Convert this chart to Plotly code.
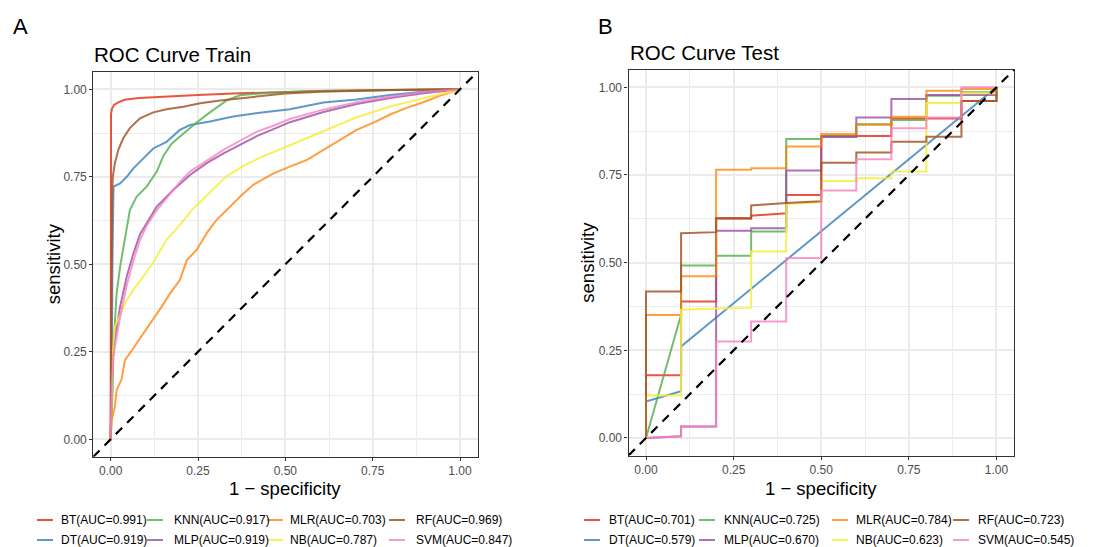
import plotly.graph_objects as go

# ---------------------------------------------------------------------------
# Data
# ---------------------------------------------------------------------------
MODELS = ["BT", "DT", "KNN", "MLP", "MLR", "NB", "RF", "SVM"]
AUC_TRAIN = ["0.991", "0.919", "0.917", "0.919", "0.703", "0.787", "0.969", "0.847"]
AUC_TEST = ["0.701", "0.579", "0.725", "0.670", "0.784", "0.623", "0.723", "0.545"]

TICK_VALS = [0, 0.25, 0.5, 0.75, 1]
TICK_TEXT = ["0.00", "0.25", "0.50", "0.75", "1.00"]

# train ROC curves: x = 1 - specificity, y = sensitivity
BT_TRAIN_X = [0, 0, 0.001, 0.004, 0.01, 0.02, 0.04, 0.08, 0.15, 0.25, 0.35, 0.45, 0.6, 0.8, 1]
BT_TRAIN_Y = [0, 0.5, 0.93, 0.945, 0.955, 0.962, 0.97, 0.975, 0.979, 0.984, 0.988, 0.991, 0.995, 0.998, 1]

DT_TRAIN_X = [0, 0.003, 0.005, 0.008, 0.027, 0.046, 0.065, 0.094, 0.122, 0.16, 0.198, 0.227,
              0.284, 0.351, 0.427, 0.513, 0.609, 0.704, 0.8, 0.895, 1]
DT_TRAIN_Y = [0, 0.2, 0.5, 0.722, 0.731, 0.75, 0.774, 0.803, 0.831, 0.85, 0.884, 0.898,
              0.908, 0.922, 0.933, 0.943, 0.962, 0.971, 0.984, 0.993, 1]

KNN_TRAIN_X = [0, 0.003, 0.006, 0.008, 0.012, 0.017, 0.027, 0.041, 0.055, 0.074, 0.103, 0.132,
               0.151, 0.175, 0.208, 0.246, 0.284, 0.332, 0.37, 0.45, 0.6, 0.8, 1]
KNN_TRAIN_Y = [0, 0.06, 0.15, 0.265, 0.35, 0.417, 0.493, 0.579, 0.655, 0.693, 0.722, 0.765,
               0.81, 0.845, 0.874, 0.905, 0.934, 0.968, 0.983, 0.99, 0.995, 0.998, 1]

MLP_TRAIN_X = [0, 0.003, 0.008, 0.027, 0.046, 0.065, 0.084, 0.132, 0.179, 0.227, 0.275, 0.323,
               0.37, 0.418, 0.466, 0.513, 0.609, 0.704, 0.8, 0.895, 1]
MLP_TRAIN_Y = [0, 0.15, 0.265, 0.379, 0.465, 0.531, 0.586, 0.665, 0.712, 0.755, 0.789, 0.817,
               0.841, 0.866, 0.886, 0.906, 0.935, 0.958, 0.975, 0.989, 1]

MLR_TRAIN_X = [0, 0.001, 0.003, 0.012, 0.017, 0.031, 0.041, 0.055, 0.074, 0.094, 0.122, 0.146,
               0.17, 0.198, 0.218, 0.246, 0.275, 0.303, 0.332, 0.37, 0.408, 0.466, 0.513, 0.561,
               0.609, 0.656, 0.704, 0.752, 0.8, 0.847, 0.895, 0.943, 1]
MLR_TRAIN_Y = [0, 0.04, 0.055, 0.093, 0.141, 0.17, 0.227, 0.246, 0.274, 0.303, 0.341, 0.379,
               0.417, 0.455, 0.512, 0.541, 0.589, 0.627, 0.655, 0.693, 0.727, 0.76, 0.779, 0.798,
               0.827, 0.855, 0.884, 0.905, 0.928, 0.947, 0.963, 0.982, 1]

NB_TRAIN_X = [0, 0.003, 0.006, 0.012, 0.027, 0.046, 0.065, 0.094, 0.122, 0.16, 0.198, 0.232,
              0.284, 0.332, 0.38, 0.427, 0.513, 0.609, 0.704, 0.8, 0.895, 1]
NB_TRAIN_Y = [0, 0.15, 0.25, 0.322, 0.355, 0.398, 0.427, 0.465, 0.505, 0.57, 0.612, 0.655,
              0.705, 0.752, 0.781, 0.805, 0.84, 0.88, 0.92, 0.951, 0.974, 1]

RF_TRAIN_X = [0, 0.002, 0.004, 0.006, 0.012, 0.022, 0.036, 0.055, 0.084, 0.122, 0.16, 0.208,
              0.256, 0.313, 0.37, 0.427, 0.5, 0.6, 0.8, 1]
RF_TRAIN_Y = [0, 0.45, 0.68, 0.75, 0.789, 0.827, 0.86, 0.889, 0.917, 0.934, 0.943, 0.95,
              0.96, 0.968, 0.974, 0.981, 0.988, 0.993, 0.998, 1]

SVM_TRAIN_X = [0, 0.003, 0.008, 0.027, 0.046, 0.065, 0.084, 0.103, 0.132, 0.16, 0.198, 0.227,
               0.275, 0.323, 0.37, 0.418, 0.466, 0.513, 0.609, 0.704, 0.8, 0.895, 1]
SVM_TRAIN_Y = [0, 0.15, 0.24, 0.35, 0.44, 0.51, 0.57, 0.61, 0.655, 0.69, 0.735, 0.765,
               0.797, 0.827, 0.853, 0.879, 0.896, 0.915, 0.942, 0.963, 0.979, 0.992, 1]

# test ROC curves (stepwise, 10 negatives)
BT_TEST_X = [0, 0, 0.1, 0.1, 0.2, 0.2, 0.3, 0.3, 0.4, 0.4, 0.5, 0.5, 0.7, 0.7, 0.9, 0.9, 1, 1]
BT_TEST_Y = [0, 0.179, 0.179, 0.389, 0.389, 0.625, 0.625, 0.634, 0.641, 0.693, 0.693, 0.861,
             0.861, 0.911, 0.911, 0.961, 0.961, 1]

DT_TEST_X = [0, 0, 0.1, 0.1, 1]
DT_TEST_Y = [0, 0.104, 0.133, 0.261, 1]

KNN_TEST_X = [0, 0.1, 0.1, 0.2, 0.2, 0.3, 0.3, 0.4, 0.4, 0.5, 0.5, 0.6, 0.6, 0.7, 0.7, 0.8,
              0.8, 0.9, 0.9, 1, 1]
KNN_TEST_Y = [0, 0.351, 0.492, 0.492, 0.52, 0.52, 0.589, 0.589, 0.853, 0.853, 0.86, 0.86,
              0.895, 0.895, 0.907, 0.907, 0.976, 0.976, 0.986, 0.986, 1]

MLP_TEST_X = [0, 0.1, 0.1, 0.2, 0.2, 0.3, 0.3, 0.4, 0.4, 0.5, 0.5, 0.6, 0.6, 0.7, 0.7, 0.8,
              0.8, 1, 1]
MLP_TEST_Y = [0, 0.005, 0.033, 0.033, 0.591, 0.591, 0.598, 0.598, 0.763, 0.763, 0.858, 0.858,
              0.914, 0.914, 0.967, 0.967, 0.978, 0.978, 1]

MLR_TEST_X = [0, 0, 0.1, 0.1, 0.2, 0.2, 0.3, 0.3, 0.4, 0.4, 0.5, 0.5, 0.6, 0.6, 0.7, 0.7,
              0.8, 0.8, 0.9, 0.9, 1, 1]
MLR_TEST_Y = [0, 0.351, 0.351, 0.461, 0.461, 0.765, 0.765, 0.769, 0.769, 0.831, 0.831, 0.867,
              0.867, 0.893, 0.893, 0.916, 0.916, 0.99, 0.99, 0.995, 0.995, 1]

NB_TEST_X = [0, 0, 0.1, 0.1, 0.2, 0.3, 0.3, 0.4, 0.4, 0.5, 0.5, 0.6, 0.6, 0.7, 0.7, 0.8, 0.8,
             0.9, 0.9, 1, 1]
NB_TEST_Y = [0, 0.121, 0.121, 0.366, 0.369, 0.371, 0.532, 0.532, 0.667, 0.672, 0.733, 0.733,
             0.741, 0.741, 0.76, 0.76, 0.955, 0.955, 0.983, 0.983, 1]

RF_TEST_X = [0, 0, 0.1, 0.1, 0.2, 0.2, 0.3, 0.3, 0.4, 0.5, 0.5, 0.6, 0.6, 0.7, 0.7, 0.8, 0.8,
             0.9, 0.9, 1, 1]
RF_TEST_Y = [0, 0.418, 0.418, 0.584, 0.587, 0.627, 0.627, 0.663, 0.67, 0.675, 0.785, 0.785,
             0.814, 0.814, 0.845, 0.845, 0.859, 0.859, 0.961, 0.961, 1]

SVM_TEST_X = [0, 0.1, 0.1, 0.2, 0.2, 0.3, 0.3, 0.4, 0.4, 0.5, 0.5, 0.6, 0.6, 0.7, 0.7, 0.8,
              0.8, 0.9, 0.9, 1]
SVM_TEST_Y = [0, 0.005, 0.033, 0.033, 0.275, 0.275, 0.332, 0.332, 0.513, 0.513, 0.706, 0.706,
              0.795, 0.795, 0.883, 0.883, 0.914, 0.914, 1, 1]

TRAIN = [(BT_TRAIN_X, BT_TRAIN_Y), (DT_TRAIN_X, DT_TRAIN_Y), (KNN_TRAIN_X, KNN_TRAIN_Y),
         (MLP_TRAIN_X, MLP_TRAIN_Y), (MLR_TRAIN_X, MLR_TRAIN_Y), (NB_TRAIN_X, NB_TRAIN_Y),
         (RF_TRAIN_X, RF_TRAIN_Y), (SVM_TRAIN_X, SVM_TRAIN_Y)]
TEST = [(BT_TEST_X, BT_TEST_Y), (DT_TEST_X, DT_TEST_Y), (KNN_TEST_X, KNN_TEST_Y),
        (MLP_TEST_X, MLP_TEST_Y), (MLR_TEST_X, MLR_TEST_Y), (NB_TEST_X, NB_TEST_Y),
        (RF_TEST_X, RF_TEST_Y), (SVM_TEST_X, SVM_TEST_Y)]

# ---------------------------------------------------------------------------
# Style / layout (pixel positions are page coordinates of the screenshot)
# ---------------------------------------------------------------------------
COLORS = ["rgba(232,55,30,0.85)", "rgba(55,126,184,0.8)", "rgba(77,175,74,0.8)",
          "rgba(152,78,163,0.8)", "rgba(255,127,0,0.75)", "rgba(245,238,60,0.85)",
          "rgba(166,86,40,0.85)", "rgba(247,129,191,0.8)"]
FONT = "Liberation Sans, Arial, sans-serif"
W, H = 1113, 547
PAGE_PAD = 8          # default <body> margin of the html page
AXIS_RANGE = [-0.05, 1.05]
INK = "#333333"
GRID = "#EBEBEB"


def px(x):
    return (x - PAGE_PAD) / W


def py(y):
    return 1 - (y - PAGE_PAD) / H


def _axis(domain, anchor):
    return dict(
        domain=domain, anchor=anchor, range=AXIS_RANGE, tickvals=TICK_VALS, ticktext=TICK_TEXT,
        showgrid=True, gridcolor=GRID, gridwidth=1.5,
        minor=dict(showgrid=True, gridcolor=GRID, gridwidth=0.9, dtick=0.125, tick0=0.125),
        ticks="outside", ticklen=3, tickwidth=1.1, tickcolor=INK,
        tickfont=dict(family=FONT, size=12, color="#4D4D4D"),
        showline=True, mirror=True, linecolor=INK, linewidth=1.1, zeroline=False,
        fixedrange=True,
    )


# ggplot-style legend: 2 rows x 4 columns, filled column-wise
LEGEND_ROWS_Y = [520, 540]
TRAIN_KEY_X = [37, 147, 267, 389]
TRAIN_TEXT_X = [60, 173, 289, 415]
TEST_KEY_X = [584, 699, 832, 953]
TEST_TEXT_X = [608, 723, 855, 977]

fig = go.Figure()
shapes, annotations = [], []

for panel, curves, aucs, key_x, text_x in [("", TRAIN, AUC_TRAIN, TRAIN_KEY_X, TRAIN_TEXT_X),
                                           ("2", TEST, AUC_TEST, TEST_KEY_X, TEST_TEXT_X)]:
    for i, (model, (xs, ys)) in enumerate(zip(MODELS, curves)):
        fig.add_trace(go.Scatter(
            x=xs, y=ys, mode="lines",
            line=dict(color=COLORS[i], width=2),
            name=f"{model}(AUC={aucs[i]})",
            showlegend=False,
            xaxis="x" + panel, yaxis="y" + panel,
            hovertemplate=f"{model}<br>1-spec: %{{x:.3f}}<br>sens: %{{y:.3f}}<extra></extra>",
        ))
        col, row = divmod(i, 2)
        yk = LEGEND_ROWS_Y[row]
        shapes.append(dict(type="line", xref="paper", yref="paper",
                           x0=px(key_x[col]), x1=px(key_x[col] + 16), y0=py(yk), y1=py(yk),
                           line=dict(color=COLORS[i], width=2)))
        annotations.append(dict(text=f"{model}(AUC={aucs[i]})", x=px(text_x[col] - 1), y=py(yk),
                                xref="paper", yref="paper", xanchor="left", yanchor="middle",
                                showarrow=False, font=dict(family=FONT, size=12, color="black")))
    # chance diagonal
    shapes.append(dict(type="line", xref="x" + panel, yref="y" + panel,
                       x0=AXIS_RANGE[0], y0=AXIS_RANGE[0], x1=AXIS_RANGE[1], y1=AXIS_RANGE[1],
                       line=dict(color="black", width=2.2, dash="9px,7px")))

# panel tags and titles
for text, x, y, size in [("A", 11, 26, 22), ("B", 596, 26, 22),
                         ("ROC Curve Train", 92, 55, 20.5), ("ROC Curve Test", 628, 53, 20.5)]:
    annotations.append(dict(text=text, x=px(x), y=py(y), xref="paper", yref="paper",
                            xanchor="left", yanchor="middle", showarrow=False,
                            font=dict(family=FONT, size=size, color="black")))

# axis titles
for text, x, y, angle in [("1 − specificity", 285.4, 488, 0), ("1 − specificity", 821.3, 488, 0),
                          ("sensitivity", 53, 264.3, -90), ("sensitivity", 588, 262.7, -90)]:
    annotations.append(dict(text=text, x=px(x), y=py(y), xref="paper", yref="paper",
                            xanchor="center", yanchor="middle", textangle=angle,
                            showarrow=False, font=dict(family=FONT, size=18.5, color="black")))

fig.update_layout(
    width=W, height=H,
    margin=dict(l=0, r=0, t=0, b=0),
    paper_bgcolor="white", plot_bgcolor="white",
    font=dict(family=FONT, color="black"),
    xaxis=_axis([px(93.2), px(477.5)], "y"),
    yaxis=_axis([py(456.8), py(71.8)], "x"),
    xaxis2=_axis([px(628.5), px(1014)], "y2"),
    yaxis2=_axis([py(455.5), py(69.8)], "x2"),
    showlegend=False,
    shapes=shapes,
    annotations=annotations,
)

fig.write_html("out.html")
